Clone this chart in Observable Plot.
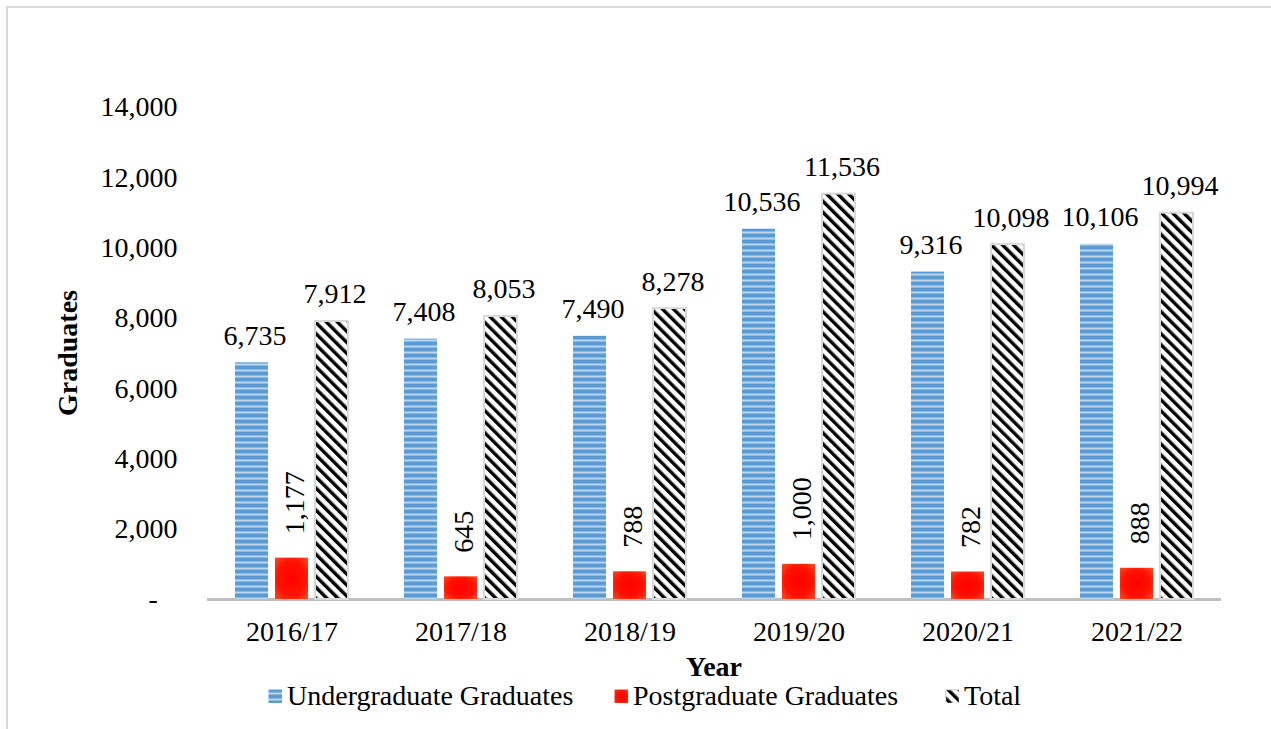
<!DOCTYPE html>
<html>
<head>
<meta charset="utf-8">
<script src="https://cdn.jsdelivr.net/npm/d3@7"></script>
<script src="https://cdn.jsdelivr.net/npm/@observablehq/plot@0.6"></script>
<style>
  html, body { margin: 0; padding: 0; background: #fff; overflow: hidden; width: 1271px; height: 729px; }
  #frame { position: absolute; left: 6px; top: 6px; width: 1400px; height: 900px; border: 2px solid #d9d9d9; box-sizing: border-box; }
  #wrap { position: absolute; left: 0; top: 0; width: 1271px; }
  #chart svg text, #chart svg tspan { font-family: "Liberation Serif", "Times New Roman", serif !important; font-size: 28px !important; fill: #000; }
  .lbl { position: absolute; font-family: "Liberation Serif", "Times New Roman", serif; font-size: 28px; line-height: 20px; height: 20px; color: #000; white-space: nowrap; }
  #ytitle { position: absolute; left: 68px; top: 353px; transform: translate(-50%, -50%) rotate(-90deg); font-weight: bold; line-height: 28px; height: 28px; }
  #below { position: relative; height: 69px; }
  .sw { position: absolute; width: 14px; height: 14px; }
</style>
</head>
<body>
<div id="frame"></div>
<div id="wrap">
  <div id="chart"></div>
  <div class="lbl" id="ytitle">Graduates</div>
  <div id="below"></div>
</div>
<script>
const years = ["2016/17", "2017/18", "2018/19", "2019/20", "2020/21", "2021/22"];
const seriesNames = ["Undergraduate Graduates", "Postgraduate Graduates", "Total"];
const undergraduate = [6735, 7408, 7490, 10536, 9316, 10106];
const postgraduate = [1177, 645, 788, 1000, 782, 888];
const total = [7912, 8053, 8278, 11536, 10098, 10994];
const yTicks = [0, 2000, 4000, 6000, 8000, 10000, 12000, 14000];

const valuesBySeries = [undergraduate, postgraduate, total];
const data = years.flatMap((year, i) =>
  seriesNames.map((s, j) => ({year, series: s, value: valuesBySeries[j][i]}))
);

const fmt = d3.format(",");
const serif = "Liberation Serif";

const chart = Plot.plot({
  width: 1271,
  height: 660,
  marginLeft: 205,
  marginRight: 49,
  marginTop: 107,
  marginBottom: 61,
  style: {fontFamily: serif, fontSize: "28px"},
  facet: {data, x: "year"},
  fx: {domain: years, padding: 0, axis: "bottom", tickSize: 0, tickPadding: 22, label: null},
  x: {domain: seriesNames, paddingInner: 0.17, paddingOuter: 0.66, axis: null},
  y: {domain: [0, 14000], ticks: yTicks, tickSize: 0, tickPadding: 30, label: null,
      tickFormat: d => d === 0 ? "-\u2002\u2009" : fmt(d)},
  color: {domain: seriesNames, range: ["url(#pUG)", "url(#pPG)", "url(#pTot)"]},
  marks: [
    Plot.ruleY([0], {stroke: "#bfbfbf", strokeWidth: 3}),
    Plot.barY(data, {filter: d => d.series !== "Total", x: "series", y: "value", fill: "series"}),
    Plot.barY(data, {filter: d => d.series === "Total", x: "series", y: "value", fill: "series",
                     stroke: "#d9d9d9", strokeWidth: 2}),
    Plot.text(data, {filter: d => d.series !== "Postgraduate Graduates", x: "series", y: "value",
                     text: d => fmt(d.value), dy: -27, dx: 3, textAnchor: "middle", lineAnchor: "middle",
                     fontFamily: serif, fontSize: 28, fill: "#000"}),
    Plot.text(data, {filter: d => d.series === "Postgraduate Graduates", x: "series", y: "value",
                     text: d => fmt(d.value), rotate: -90, dy: -24, dx: 3, textAnchor: "start", lineAnchor: "middle",
                     fontFamily: serif, fontSize: 28, fill: "#000"})
  ]
});

// pattern / gradient definitions
const svgNS = "http://www.w3.org/2000/svg";
const defsHTML = `
  <pattern id="pUG" patternUnits="userSpaceOnUse" width="6" height="6">
    <rect width="6" height="6" fill="#5b9bd5"/>
    <rect y="3.5" width="6" height="2" fill="#bdd7ee"/>
  </pattern>
  <radialGradient id="pPG" cx="0.5" cy="0.5" r="0.75">
    <stop offset="0" stop-color="#ff0000"/>
    <stop offset="0.55" stop-color="#ff1200"/>
    <stop offset="1" stop-color="#f4582c"/>
  </radialGradient>
  <pattern id="pTot" patternUnits="userSpaceOnUse" width="7.8" height="7.8" patternTransform="rotate(-45)">
    <rect width="7.8" height="7.8" fill="#ffffff"/>
    <rect width="3.4" height="7.8" fill="#000000"/>
  </pattern>`;
const defs = document.createElementNS(svgNS, "defs");
defs.innerHTML = defsHTML;
chart.insertBefore(defs, chart.firstChild);

document.getElementById("chart").appendChild(chart);

// x-axis title and legend below the SVG
const below = document.getElementById("below");
const year = document.createElement("div");
year.className = "lbl";
year.textContent = "Year";
year.style.fontWeight = "bold";
year.style.left = "714px";
year.style.top = "-3px";
year.style.transform = "translateX(-50%)";
below.appendChild(year);

const legendPos = [268, 614, 945];
const swatchFills = ["url(#pUG)", "url(#pPG)", "url(#pTot)"];
seriesNames.forEach((name, i) => {
  const sw = document.createElementNS(svgNS, "svg");
  sw.setAttribute("class", "sw");
  sw.setAttribute("width", 15);
  sw.setAttribute("height", 15);
  sw.style.left = legendPos[i] + "px";
  sw.style.top = "29px";
  const r = document.createElementNS(svgNS, "rect");
  r.setAttribute("x", 0.5); r.setAttribute("y", 0.5);
  r.setAttribute("width", 14); r.setAttribute("height", 14);
  r.setAttribute("fill", swatchFills[i]);
  if (i === 2) { r.setAttribute("stroke", "#d9d9d9"); r.setAttribute("stroke-width", 1.5); }
  sw.appendChild(r);
  below.appendChild(sw);
  const t = document.createElement("div");
  t.className = "lbl";
  t.textContent = name;
  t.style.left = (legendPos[i] + 19) + "px";
  t.style.top = "26px";
  below.appendChild(t);
});
</script>
</body>
</html>
